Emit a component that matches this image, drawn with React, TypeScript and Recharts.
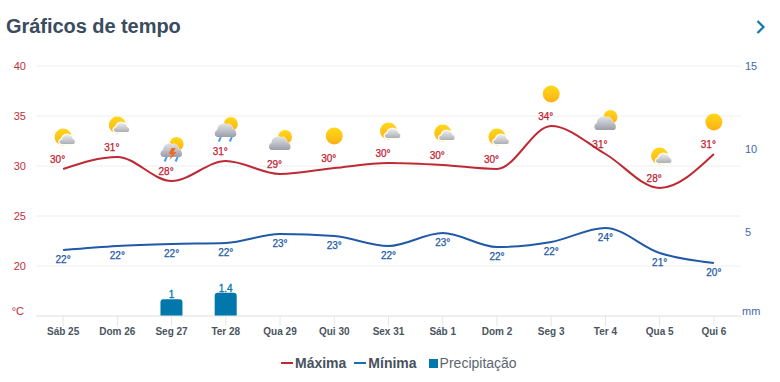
import React from "react";
import { ComposedChart, Line, Bar, XAxis, YAxis, CartesianGrid, Legend } from "recharts";

const days = ["Sáb 25", "Dom 26", "Seg 27", "Ter 28", "Qua 29", "Qui 30", "Sex 31", "Sáb 1", "Dom 2", "Seg 3", "Ter 4", "Qua 5", "Qui 6"];
const maxCurve = [29.7, 30.9, 28.5, 30.5, 29.2, 29.8, 30.3, 30.1, 29.7, 34, 31.2, 27.8, 31.2];
const minCurve = [21.6, 22, 22.2, 22.3, 23.2, 23, 22, 23.3, 21.9, 22.4, 23.8, 21.3, 20.3];
const maxLabels = [30, 31, 28, 31, 29, 30, 30, 30, 30, 34, 31, 28, 31];
const minLabels = [22, 22, 22, 22, 23, 23, 22, 23, 22, 22, 24, 21, 20];
const precipitation = [0, 0, 1, 1.4, 0, 0, 0, 0, 0, 0, 0, 0, 0];
const icons = ["partly", "partly", "storm", "rain", "cloudy", "sun", "partly", "partly", "partly", "sun", "cloudy", "partly", "sun"];
const tempTicks = [15, 20, 25, 30, 35, 40];
const rainTicks = [0, 5, 10, 15];

const RED = "#bd2a33";
const BLUE = "#2059a8";
const BAR = "#0177ab";
const FONT = "'Liberation Sans', Arial, sans-serif";

const data = days.map((day, i) => ({
  day,
  max: maxCurve[i],
  min: minCurve[i],
  rain: precipitation[i],
  maxLabel: maxLabels[i],
  minLabel: minLabels[i],
  icon: icons[i],
}));

const bigCloud = "M-8 8 C-12 8 -12 2 -8.5 1 C-8.5 -4 -3 -7 1 -4.5 C4 -6 7 -3 6.5 0 C11 0 12 8 8 8 Z";
const smallCloud = "M-1 7 C-4.5 7 -4.5 2.5 -1 2.5 C-0.5 -2 4.5 -3.5 6.5 -1 C8.5 -1.5 9.5 0.5 9.5 2 C12.5 2.5 12.5 7 10 7 Z";

function WeatherIcon({ kind, x, y }: { kind: string; x: number; y: number }) {
  if (kind === "sun") {
    return (
      <g transform={`translate(${x},${y})`}>
        <circle r={8.5} fill="url(#sunFill)" />
      </g>
    );
  }
  if (kind === "partly") {
    return (
      <g transform={`translate(${x},${y})`}>
        <circle r={8.5} fill="url(#sunFill)" />
        <path d={smallCloud} fill="url(#smallCloudFill)" stroke="#fffdf2" strokeWidth={2.6} paintOrder="stroke" />
      </g>
    );
  }
  const wet = kind === "rain" || kind === "storm";
  return (
    <g transform={`translate(${x},${y})`}>
      <circle cx={5} cy={-5} r={7} fill="url(#sunFill)" />
      <path d={bigCloud} fill="url(#cloudFill)" stroke="#ffffff" strokeWidth={0.8} paintOrder="stroke" />
      {wet && (
        <g fill="#4a9bf0">
          <path d="M-6 8 L-4 8 L-6 13 L-8 12 Z" />
          <path d="M5 8 L7 8 L5 13 L3 12 Z" />
        </g>
      )}
      {kind === "storm" && <path d="M0 -1 L4 -1 L2 3 L5 3 L-2 11 L0 5 L-3 5 Z" fill="#f26a21" />}
    </g>
  );
}

function maxDot(props: any) {
  const { cx, cy, payload, index } = props;
  return (
    <g key={`max-${index}`}>
      <WeatherIcon kind={payload.icon} x={cx} y={cy - 32} />
      <text x={cx - 5.5} y={cy - 6.5} textAnchor="middle" fontSize={10} fontFamily={FONT} fill="#c0202f" stroke="#c0202f" strokeWidth={0.25}>
        {payload.maxLabel}°
      </text>
    </g>
  );
}

function minDot(props: any) {
  const { cx, cy, payload, index } = props;
  return (
    <text key={`min-${index}`} x={cx} y={cy + 13} textAnchor="middle" fontSize={10} fontFamily={FONT} fill="#2059a8" stroke="#2059a8" strokeWidth={0.25}>
      {payload.minLabel}°
    </text>
  );
}

function rainLabel(props: any) {
  const { x, y, width, value } = props;
  if (!value) return null;
  return (
    <text x={x + width / 2} y={y - 1} textAnchor="middle" fontSize={10} fontFamily={FONT} fill={BAR} stroke={BAR} strokeWidth={0.3}>
      {value}
    </text>
  );
}

function leftTick(props: any) {
  const { x, y, payload } = props;
  const bottom = payload.value === 15;
  return (
    <text x={bottom ? x - 4 : x - 2} y={bottom ? y - 1.5 : y + 3.5} textAnchor="end" fontSize={11} fontFamily={FONT} fill="#c0303a">
      {bottom ? "°C" : payload.value}
    </text>
  );
}

function rightTick(props: any) {
  const { x, y, payload } = props;
  const bottom = payload.value === 0;
  return (
    <text x={bottom ? x - 7 : x - 4} y={bottom ? y - 1.5 : y + 3.5} textAnchor="start" fontSize={11} fontFamily={FONT} fill="#3f6aa5">
      {bottom ? "mm" : payload.value}
    </text>
  );
}

function legendContent(props: any) {
  const items = props.payload || [];
  return (
    <div style={{ height: 40, position: "relative", fontFamily: FONT, fontSize: 14, whiteSpace: "nowrap" }}>
      <div style={{ position: "absolute", top: 19, left: 281, display: "flex", alignItems: "center", height: 16 }}>
        {items.map((it: any) => {
          const isBar = it.dataKey === "rain";
          const swatch = it.dataKey === "max" ? RED : it.dataKey === "min" ? "#1172ad" : BAR;
          return (
            <span key={it.dataKey} style={{ display: "flex", alignItems: "center", marginRight: isBar ? 0 : 8 }}>
              {isBar ? (
                <span style={{ width: 9, height: 9, background: swatch, marginLeft: 4, marginRight: 2 }} />
              ) : (
                <span style={{ width: 12, height: 2.5, background: swatch, marginRight: 2 }} />
              )}
              <span style={{ fontWeight: isBar ? 400 : 700, color: isBar ? "#5b6670" : "#47525d" }}>{it.value}</span>
            </span>
          );
        })}
      </div>
    </div>
  );
}

export default function App() {
  return (
    <div style={{ position: "absolute", left: 0, top: 0, width: 780, height: 382, background: "#fff", overflow: "hidden" }}>
      <div style={{ position: "absolute", left: 6, top: 14, fontFamily: FONT, fontSize: 20, fontWeight: 700, color: "#3a4c5e", lineHeight: "24px", letterSpacing: -0.05 }}>
        Gráficos de tempo
      </div>
      <svg width={12} height={16} style={{ position: "absolute", left: 755, top: 19 }}>
        <path d="M2.5 2 L8.5 8 L2.5 14" fill="none" stroke="#0f77ad" strokeWidth={2.2} />
      </svg>
      <ComposedChart width={780} height={382} data={data} margin={{ top: 66, right: 0, bottom: 6, left: 0 }} barSize={22}>
        <defs>
          <linearGradient id="sunFill" x1="0" y1="0" x2="0" y2="1">
            <stop offset="0%" stopColor="#ffd91a" />
            <stop offset="100%" stopColor="#fbb016" />
          </linearGradient>
          <linearGradient id="cloudFill" x1="0" y1="0" x2="0" y2="1">
            <stop offset="0%" stopColor="#e2e3e8" />
            <stop offset="100%" stopColor="#9a9ea8" />
          </linearGradient>
          <linearGradient id="smallCloudFill" x1="0" y1="0" x2="0" y2="1">
            <stop offset="0%" stopColor="#ececf0" />
            <stop offset="100%" stopColor="#acafb6" />
          </linearGradient>
        </defs>
        <CartesianGrid vertical={false} stroke="#eeeeee" yAxisId="temp" />
        <XAxis
          dataKey="day"
          height={20}
          interval={0}
          axisLine={{ stroke: "#e6e6e6" }}
          tickLine={{ stroke: "#e6e6e6" }}
          tickSize={10}
          tick={{ fontSize: 10, fontWeight: 700, fontFamily: FONT, fill: "#4a5560" }}
          tickMargin={1.5}
        />
        <YAxis yAxisId="temp" width={36} domain={[15, 40]} ticks={tempTicks} axisLine={false} tickLine={false} tick={leftTick} />
        <YAxis yAxisId="rain" orientation="right" width={39} domain={[0, 15]} ticks={rainTicks} axisLine={false} tickLine={false} tick={rightTick} />
        <Legend height={40} align="left" verticalAlign="bottom" content={legendContent} wrapperStyle={{ left: 0, width: 780 }} />
        <Line yAxisId="temp" name="Máxima" dataKey="max" type="monotone" stroke={RED} strokeWidth={2} dot={maxDot} activeDot={false} isAnimationActive={false} />
        <Line yAxisId="temp" name="Mínima" dataKey="min" type="monotone" stroke={BLUE} strokeWidth={2} dot={minDot} activeDot={false} isAnimationActive={false} />
        <Bar yAxisId="rain" name="Precipitação" dataKey="rain" fill={BAR} radius={[3, 3, 0, 0]} label={rainLabel} isAnimationActive={false} />
      </ComposedChart>
    </div>
  );
}
